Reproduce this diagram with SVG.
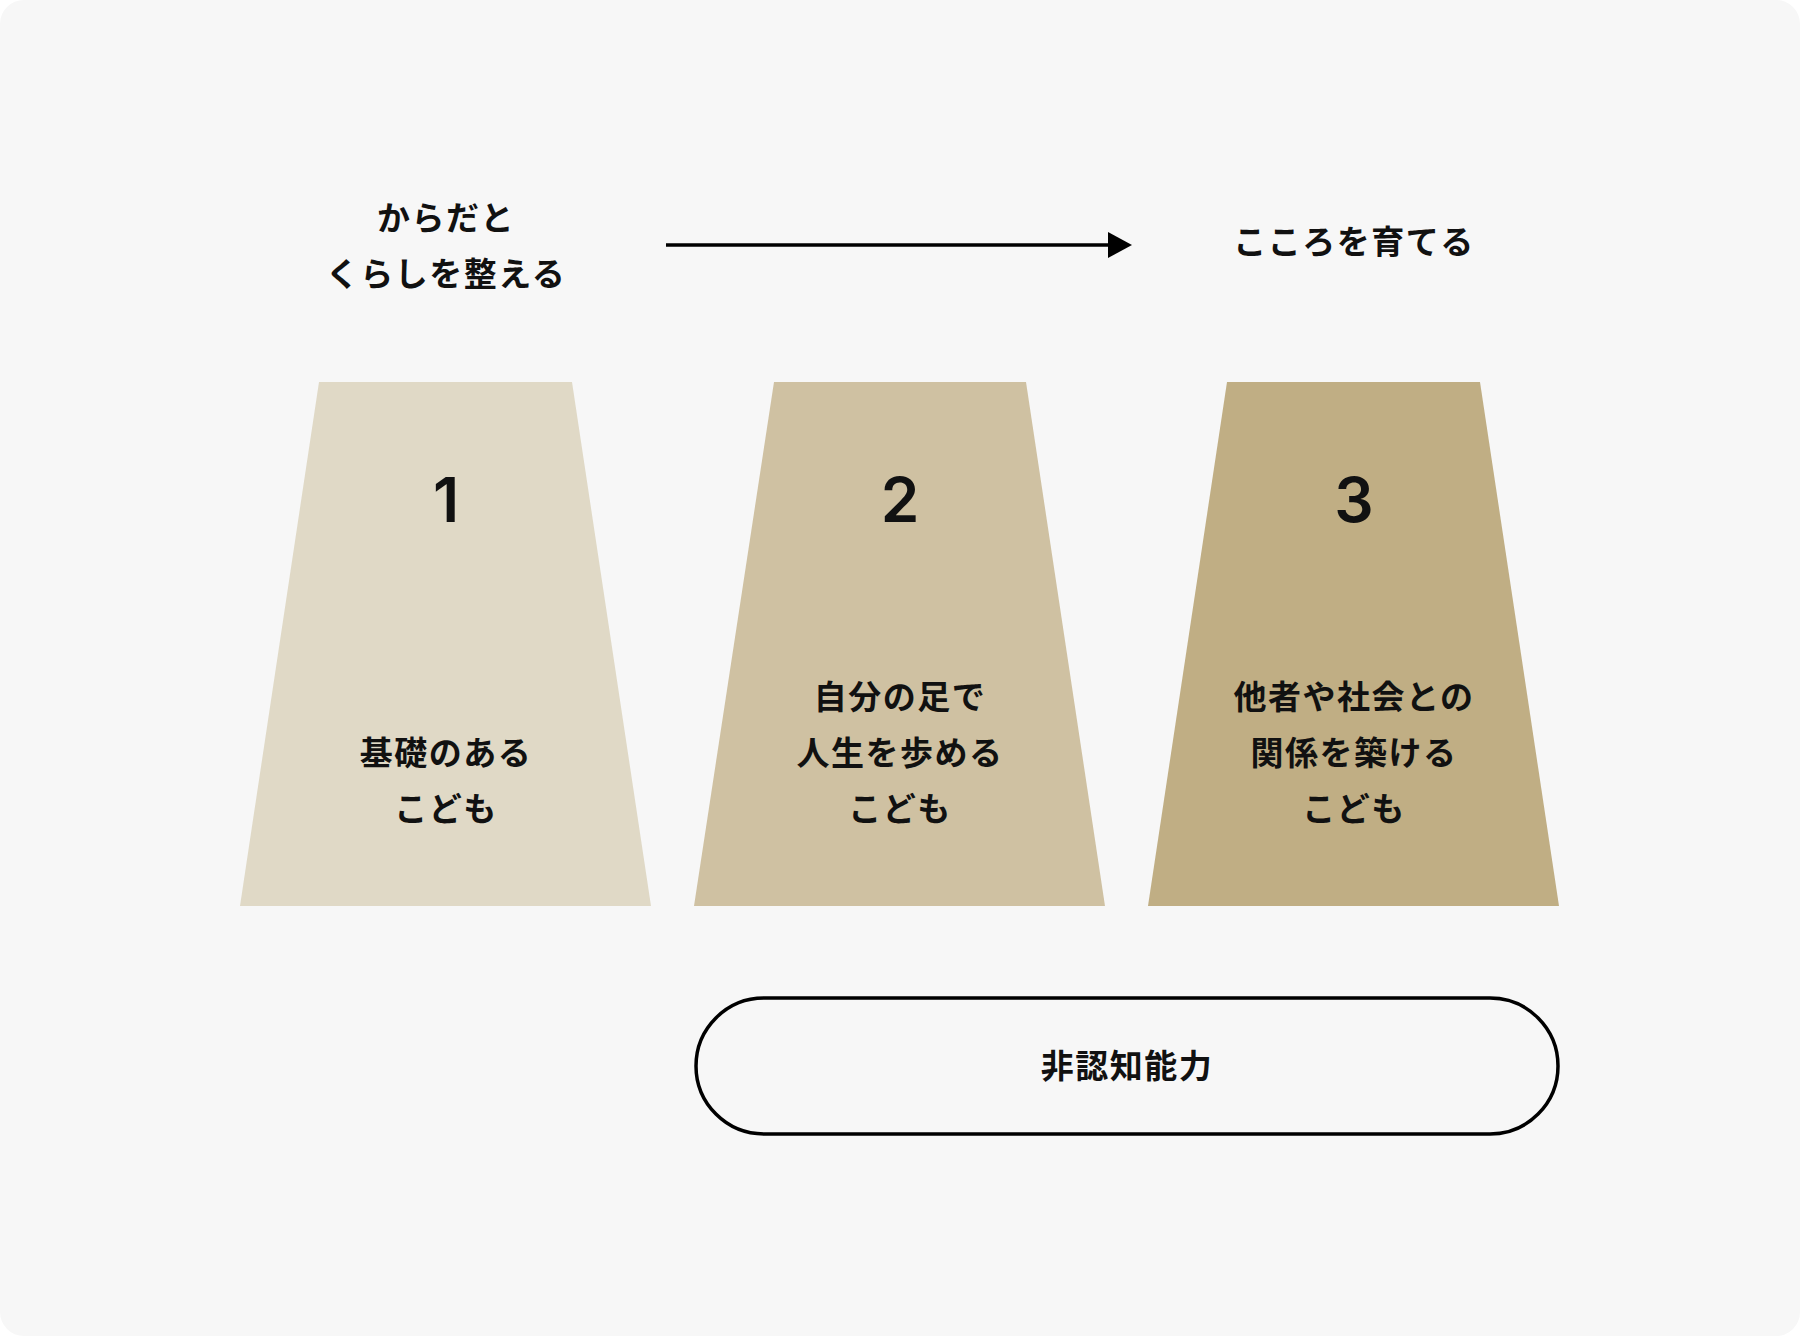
<svg xmlns="http://www.w3.org/2000/svg" width="1800" height="1336" viewBox="0 0 1800 1336">
<defs>
<style>
.t{font-family:"Noto Sans CJK JP","Noto Sans",sans-serif;font-weight:700;font-size:33px;letter-spacing:1.5px;fill:#111;text-anchor:middle;dominant-baseline:central}
.n{font-family:Inter,"Liberation Sans",sans-serif;font-weight:600;font-size:62px;fill:#111;text-anchor:middle;dominant-baseline:central}
</style>
</defs>
<rect x="0" y="0" width="1800" height="1336" rx="24" fill="#f7f7f7"/>
<g id="start-label">
<text class="t" x="446" y="216">からだと</text>
<text class="t" x="446" y="272">くらしを整える</text>
</g>
<g id="end-label">
<text class="t" x="1354" y="240">こころを育てる</text>
</g>
<g id="connectors">
<line x1="666" y1="245" x2="1110" y2="245" stroke="#000" stroke-width="3.5"/>
<polygon points="1108,232 1132,245 1108,258" fill="#000"/>
</g>
<g id="step1">
<polygon points="319,382 572,382 651,906 240,906" fill="#e0d9c6"/>
<text class="n" x="446" y="499">1</text>
<text class="t" x="446" y="751">基礎のある</text>
<text class="t" x="446" y="807">こども</text>
</g>
<g id="step2">
<polygon points="774,382 1026,382 1105,906 694,906" fill="#cfc1a2"/>
<text class="n" x="900" y="499">2</text>
<text class="t" x="900" y="695">自分の足で</text>
<text class="t" x="900" y="751">人生を歩める</text>
<text class="t" x="900" y="807">こども</text>
</g>
<g id="step3">
<polygon points="1227,382 1480,382 1559,906 1148,906" fill="#c0ae84"/>
<text class="n" x="1354" y="499">3</text>
<text class="t" x="1354" y="695">他者や社会との</text>
<text class="t" x="1354" y="751">関係を築ける</text>
<text class="t" x="1354" y="807">こども</text>
</g>
<g id="noncognitive">
<rect x="696" y="998" width="862" height="136" rx="68" fill="none" stroke="#000" stroke-width="3.5"/>
<text class="t" x="1127" y="1064">非認知能力</text>
</g>
</svg>
